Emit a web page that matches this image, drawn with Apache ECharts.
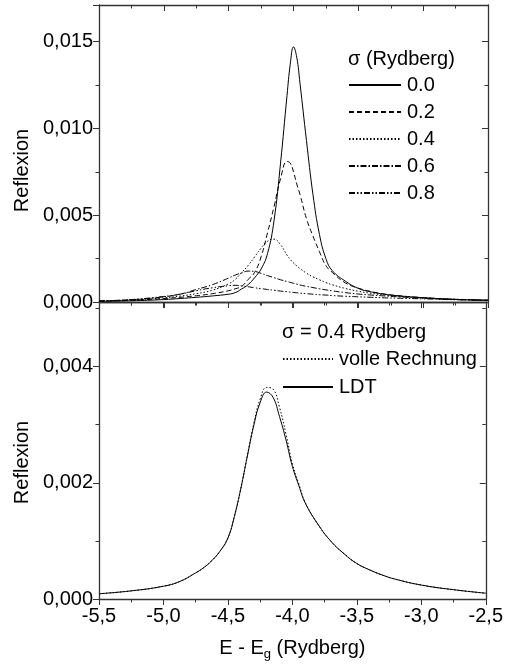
<!DOCTYPE html>
<html><head><meta charset="utf-8">
<script src="https://cdn.jsdelivr.net/npm/echarts@6/dist/echarts.min.js"></script>
<style>html,body{margin:0;padding:0;background:#fff}#c{width:506px;height:666px}</style>
</head><body><div id="c"></div>
<script>
// ---- data ----
const xTop = [-5.5,-5.25,-5.0,-4.875,-4.75,-4.625,-4.5,-4.45,-4.4,-4.35,-4.3,-4.25,-4.2,-4.15,-4.1,-4.05,-4.025,-4.0,-3.975,-3.95,-3.9,-3.85,-3.8,-3.75,-3.7,-3.6,-3.5,-3.4,-3.3,-3.2,-3.0,-2.75,-2.5];
const sigma00 = [0.00004,0.00007,0.00014,0.0002,0.00027,0.00035,0.00045,0.00054,0.00075,0.001,0.0014,0.0019,0.0028,0.0047,0.008,0.0119,0.0137,0.0147,0.0141,0.0126,0.0093,0.0062,0.0039,0.0025,0.0018,0.0012,0.00078,0.00058,0.00045,0.00036,0.00025,0.00015,0.0001];
const sigma02 = [0.00005,0.0001,0.0002,0.00027,0.00036,0.00048,0.00065,0.00076,0.0009,0.0013,0.0017,0.0026,0.004,0.0055,0.0071,0.0081,0.008,0.0075,0.0068,0.0062,0.0048,0.0038,0.0029,0.0021,0.0017,0.0011,0.0008,0.0006,0.00046,0.00037,0.00025,0.00015,0.0001];
const sigma04 = [0.00006,0.00012,0.00024,0.00034,0.00048,0.00068,0.00105,0.0013,0.0017,0.0021,0.0026,0.0031,0.0035,0.00362,0.0033,0.0027,0.00245,0.00225,0.00208,0.00193,0.00166,0.00145,0.00128,0.00112,0.00099,0.00078,0.00062,0.0005,0.00041,0.00034,0.00024,0.00016,0.0001];
const sigma06 = [0.00006,0.00013,0.0003,0.00045,0.00072,0.001,0.00138,0.00155,0.00168,0.00178,0.00176,0.00165,0.00152,0.0014,0.00128,0.00118,0.00113,0.00108,0.00103,0.00098,0.0009,0.00083,0.00076,0.0007,0.00064,0.00054,0.00046,0.0004,0.00035,0.0003,0.00022,0.00014,0.0001];
const sigma08 = [0.00006,0.00014,0.00032,0.00045,0.00065,0.00082,0.00094,0.00096,0.00093,0.00088,0.00082,0.00077,0.00072,0.00068,0.00063,0.00059,0.00057,0.00055,0.00053,0.00051,0.00048,0.00045,0.00042,0.0004,0.00037,0.00033,0.0003,0.00027,0.00024,0.00022,0.00018,0.00013,0.0001];
const topNames = ['0.0','0.2','0.4','0.6','0.8'];

const xBot = [-5.5,-5.25,-5.0,-4.875,-4.75,-4.6875,-4.625,-4.5625,-4.5,-4.45,-4.4,-4.35,-4.3,-4.25,-4.2,-4.15,-4.1,-4.05,-4.0,-3.95,-3.9,-3.8,-3.7,-3.6,-3.5,-3.4,-3.3,-3.2,-3.0,-2.75,-2.5];
const volle = [0.00009,0.00014,0.00022,0.0003,0.00045,0.00054,0.00066,0.00082,0.00105,0.00142,0.0019,0.00246,0.00301,0.00344,0.00364,0.00361,0.0033,0.00284,0.00233,0.00198,0.00166,0.00128,0.00099,0.00078,0.00061,0.0005,0.00041,0.00034,0.00024,0.00016,0.0001];
const ldt = [0.00009,0.00014,0.00022,0.0003,0.00045,0.00054,0.00066,0.00082,0.00105,0.00142,0.0019,0.00245,0.00298,0.00338,0.00356,0.00347,0.00314,0.00274,0.00228,0.00195,0.00165,0.00128,0.00099,0.00078,0.00061,0.0005,0.00041,0.00034,0.00024,0.00016,0.0001];
const botNames = ['volle Rechnung','LDT'];

const xMin = -5.5, xMax = -2.5, xStep = 0.5;
const yTopMax = 0.01711, yTopStep = 0.005;
const yBotMax = 0.00511, yBotStep = 0.002;

// ---- styling ----
const FONT = 'Liberation Sans, Arial, sans-serif';
const AX = '#333';
const pair = (xs, ys) => xs.map((x, i) => [x, ys[i]]);
const fmtY = v => v.toFixed(3).replace('.', ',');
const fmtX = v => v.toFixed(1).replace('.', ',');

function xAx(grid, pos, opts) {
  return Object.assign({
    type: 'value', gridIndex: grid, position: pos, min: xMin, max: xMax, interval: xStep,
    axisLine: { show: true, onZero: false, lineStyle: { color: AX, width: 1.3 } },
    axisTick: { show: true, inside: pos === 'top', length: 6, lineStyle: { color: AX, width: 1 } },
    minorTick: { show: true, splitNumber: 2, length: 3.5, lineStyle: { color: AX, width: 1 } },
    axisLabel: { show: false },
    splitLine: { show: false }
  }, opts || {});
}
function yAx(grid, pos, max, step, opts) {
  return Object.assign({
    type: 'value', gridIndex: grid, position: pos, min: 0, max: max, interval: step,
    axisLine: { show: true, onZero: false, lineStyle: { color: AX, width: 1.3 } },
    axisTick: { show: true, inside: pos === 'right', length: 6, lineStyle: { color: AX, width: 1 } },
    minorTick: { show: true, splitNumber: 2, length: 3.5, lineStyle: { color: AX, width: 1 } },
    axisLabel: { show: false },
    splitLine: { show: false }
  }, opts || {});
}
const yLabel = { show: true, formatter: fmtY, fontFamily: FONT, fontSize: 20, color: '#000', margin: 6, showMaxLabel: false };
const yName = (shift) => ({
  name: 'Reflexion', nameLocation: 'middle', nameGap: 57,
  nameTextStyle: { fontFamily: FONT, fontSize: 20, color: '#000', padding: [0, shift, 0, 0] }
});

const dashes = ['solid', [5, 3], [1.5, 2], [6, 2, 1.5, 2], [6, 2, 1.5, 2, 1.5, 2]];
const topData = [sigma00, sigma02, sigma04, sigma06, sigma08];
const lineBase = { type: 'line', symbol: 'none', smooth: 0.45, silent: true, itemStyle: { color: '#000' } };

const series = topNames.map((n, i) => Object.assign({}, lineBase, {
  name: n, xAxisIndex: 0, yAxisIndex: 0, data: pair(xTop, topData[i]),
  lineStyle: { color: '#000', width: 1, type: dashes[i] }
}));
series.push(Object.assign({}, lineBase, {
  name: botNames[0], xAxisIndex: 2, yAxisIndex: 2, data: pair(xBot, volle),
  lineStyle: { color: '#000', width: 1, type: [1.5, 2] }
}));
series.push(Object.assign({}, lineBase, {
  name: botNames[1], xAxisIndex: 2, yAxisIndex: 2, data: pair(xBot, ldt),
  lineStyle: { color: '#000', width: 1, type: 'solid' }
}));

const legendBase = {
  orient: 'vertical', itemHeight: 20,
  textStyle: { fontFamily: FONT, fontSize: 20, color: '#000', padding: [0, 0, 0, 1] },
  itemStyle: { color: 'rgba(0,0,0,0)', borderWidth: 0, opacity: 0 },
  selectedMode: false, padding: 0
};

const chart = echarts.init(document.getElementById('c'), null, { renderer: 'canvas' });
chart.setOption({
  animation: false,
  backgroundColor: '#fff',
  title: [
    { text: 'σ (Rydberg)', left: 348, top: 49, padding: 0,
      textStyle: { fontFamily: FONT, fontSize: 20, fontWeight: 'normal', color: '#000' } },
    { text: 'σ = 0.4 Rydberg', left: 282, top: 322, padding: 0,
      textStyle: { fontFamily: FONT, fontSize: 20, fontWeight: 'normal', color: '#000' } }
  ],
  legend: [
    Object.assign({}, legendBase, { data: topNames, left: 348, top: 75, itemWidth: 52, itemGap: 7 }),
    Object.assign({}, legendBase, { data: botNames, left: 282, top: 349, itemWidth: 50, itemGap: 8 })
  ],
  grid: [
    { left: 99, right: 18, top: 5, height: 297 },
    { left: 99, right: 18, top: 302, height: 297 }
  ],
  xAxis: [
    xAx(0, 'bottom'),
    xAx(0, 'top'),
    xAx(1, 'bottom', {
      axisLabel: { show: true, formatter: fmtX, fontFamily: FONT, fontSize: 20, color: '#000', margin: 7 },
      name: '{a|E - E}{s|g}{a| (Rydberg)}', nameLocation: 'middle', nameGap: 37,
      nameTextStyle: { rich: {
        a: { fontFamily: FONT, fontSize: 20, color: '#000' },
        s: { fontFamily: FONT, fontSize: 13, color: '#000', verticalAlign: 'bottom', padding: [12, 0, 0, 0] }
      } }
    }),
    xAx(1, 'top')
  ],
  yAxis: [
    yAx(0, 'left', yTopMax, yTopStep, Object.assign({ axisLabel: yLabel }, yName(34))),
    yAx(0, 'right', yTopMax, yTopStep),
    yAx(1, 'left', yBotMax, yBotStep, Object.assign({ axisLabel: yLabel }, yName(24))),
    yAx(1, 'right', yBotMax, yBotStep)
  ],
  series: series
});
</script></body></html>
